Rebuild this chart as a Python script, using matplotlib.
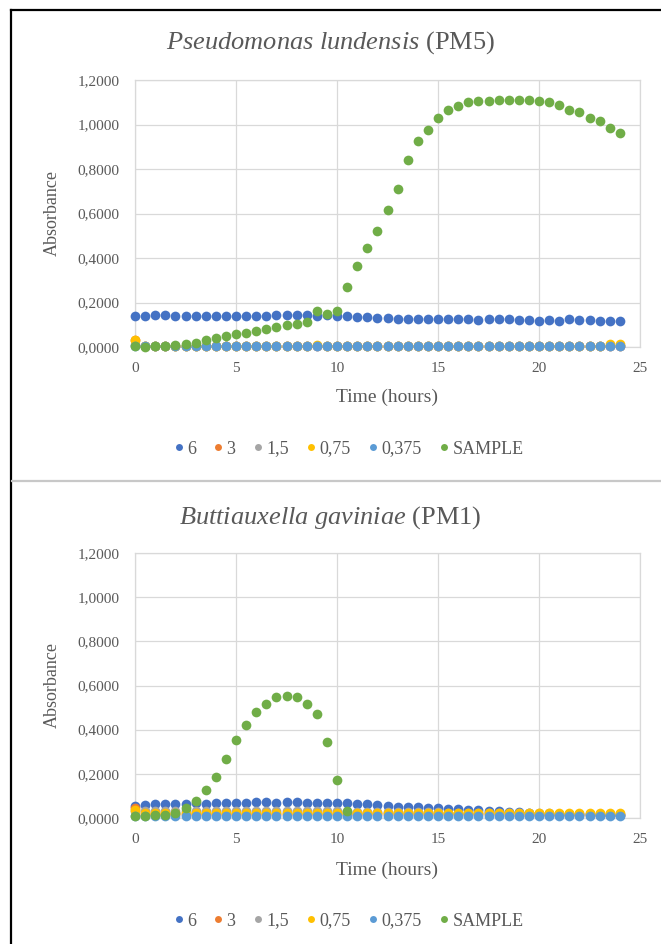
import matplotlib
matplotlib.use("Agg")
import matplotlib.pyplot as plt
from matplotlib.lines import Line2D
from matplotlib.ticker import FuncFormatter
import numpy as np

# ---------------- data ----------------
hours = [0, 0.5, 1, 1.5, 2, 2.5, 3, 3.5, 4, 4.5, 5, 5.5, 6, 6.5, 7, 7.5, 8, 8.5,
         9, 9.5, 10, 10.5, 11, 11.5, 12, 12.5, 13, 13.5, 14, 14.5, 15, 15.5, 16,
         16.5, 17, 17.5, 18, 18.5, 19, 19.5, 20, 20.5, 21, 21.5, 22, 22.5, 23,
         23.5, 24]

series_names = ["6", "3", "1,5", "0,75", "0,375", "SAMPLE"]
series_colors = ["#4472C4", "#ED7D31", "#A5A5A5", "#FFC000", "#5B9BD5", "#70AD47"]

# Pseudomonas lundensis (PM5)
top_6 = [0.138, 0.140, 0.142, 0.146, 0.140, 0.140, 0.139, 0.139, 0.139, 0.140,
         0.140, 0.139, 0.140, 0.141, 0.145, 0.146, 0.143, 0.146, 0.140, 0.142,
         0.141, 0.140, 0.137, 0.136, 0.132, 0.130, 0.128, 0.127, 0.128, 0.127,
         0.127, 0.126, 0.126, 0.125, 0.121, 0.125, 0.126, 0.124, 0.121, 0.122,
         0.118, 0.123, 0.119, 0.124, 0.121, 0.120, 0.119, 0.119, 0.119]
top_3 = [0.030, 0.005, 0.004, 0.004, 0.004, 0.004, 0.004, 0.004, 0.004, 0.004,
         0.004, 0.004, 0.004, 0.004, 0.004, 0.004, 0.004, 0.004, 0.004, 0.004,
         0.004, 0.004, 0.004, 0.004, 0.004, 0.004, 0.004, 0.004, 0.004, 0.004,
         0.004, 0.004, 0.004, 0.004, 0.004, 0.004, 0.004, 0.004, 0.004, 0.004,
         0.004, 0.004, 0.004, 0.004, 0.004, 0.004, 0.004, 0.004, 0.004]
top_15 = [0.008, 0.006, 0.006, 0.006, 0.006, 0.006, 0.006, 0.006, 0.006, 0.006,
          0.006, 0.006, 0.006, 0.006, 0.006, 0.006, 0.006, 0.006, 0.006, 0.006,
          0.006, 0.006, 0.006, 0.006, 0.006, 0.006, 0.006, 0.006, 0.006, 0.006,
          0.006, 0.006, 0.006, 0.006, 0.006, 0.006, 0.006, 0.006, 0.006, 0.006,
          0.006, 0.006, 0.006, 0.006, 0.006, 0.006, 0.006, 0.006, 0.006]
top_075 = [0.032, 0.006, 0.005, 0.005, 0.005, 0.005, 0.005, 0.005, 0.005, 0.005,
           0.005, 0.005, 0.005, 0.005, 0.005, 0.005, 0.005, 0.005, 0.011, 0.005,
           0.005, 0.005, 0.005, 0.005, 0.005, 0.005, 0.005, 0.005, 0.005, 0.005,
           0.005, 0.005, 0.005, 0.005, 0.005, 0.005, 0.005, 0.005, 0.005, 0.005,
           0.005, 0.005, 0.005, 0.005, 0.005, 0.005, 0.006, 0.012, 0.012]
top_0375 = [0.004, 0.004, 0.004, 0.004, 0.004, 0.004, 0.004, 0.004, 0.004, 0.004,
            0.004, 0.004, 0.004, 0.004, 0.004, 0.004, 0.004, 0.004, 0.004, 0.004,
            0.004, 0.004, 0.004, 0.004, 0.004, 0.004, 0.004, 0.004, 0.004, 0.004,
            0.004, 0.004, 0.004, 0.004, 0.004, 0.004, 0.004, 0.004, 0.004, 0.004,
            0.004, 0.004, 0.004, 0.004, 0.004, 0.004, 0.004, 0.004, 0.004]
top_sample = [0.003, 0.002, 0.004, 0.005, 0.008, 0.012, 0.020, 0.030, 0.040, 0.050,
              0.057, 0.065, 0.072, 0.080, 0.090, 0.098, 0.105, 0.113, 0.160, 0.148,
              0.162, 0.271, 0.365, 0.444, 0.523, 0.617, 0.711, 0.839, 0.926, 0.976,
              1.027, 1.063, 1.083, 1.099, 1.106, 1.106, 1.110, 1.111, 1.111, 1.111,
              1.106, 1.099, 1.086, 1.065, 1.057, 1.027, 1.015, 0.986, 0.962]

# Buttiauxella gaviniae (PM1)
bot_6 = [0.055, 0.060, 0.065, 0.065, 0.062, 0.065, 0.066, 0.065, 0.068, 0.070,
         0.068, 0.070, 0.072, 0.072, 0.070, 0.072, 0.072, 0.070, 0.070, 0.070,
         0.068, 0.066, 0.065, 0.062, 0.058, 0.055, 0.052, 0.050, 0.048, 0.046,
         0.044, 0.042, 0.040, 0.037, 0.035, 0.032, 0.030, 0.028, 0.025, 0.022,
         0.020, 0.019, 0.018, 0.017, 0.016, 0.016, 0.015, 0.015, 0.015]
bot_3 = [0.045, 0.020, 0.020, 0.020, 0.020, 0.020, 0.020, 0.020, 0.020, 0.020,
         0.020, 0.020, 0.020, 0.020, 0.020, 0.020, 0.020, 0.020, 0.020, 0.020,
         0.020, 0.020, 0.019, 0.019, 0.019, 0.018, 0.018, 0.018, 0.018, 0.017,
         0.017, 0.017, 0.017, 0.016, 0.016, 0.016, 0.016, 0.015, 0.015, 0.015,
         0.015, 0.015, 0.015, 0.015, 0.015, 0.015, 0.015, 0.015, 0.015]
bot_15 = [0.032, 0.030, 0.030, 0.030, 0.030, 0.030, 0.030, 0.030, 0.030, 0.030,
          0.030, 0.030, 0.030, 0.030, 0.030, 0.030, 0.030, 0.030, 0.030, 0.030,
          0.030, 0.029, 0.028, 0.028, 0.027, 0.027, 0.026, 0.026, 0.025, 0.025,
          0.025, 0.024, 0.024, 0.024, 0.023, 0.023, 0.022, 0.022, 0.022, 0.021,
          0.021, 0.021, 0.020, 0.020, 0.020, 0.020, 0.020, 0.020, 0.020]
bot_075 = [0.035, 0.024, 0.024, 0.024, 0.024, 0.024, 0.024, 0.024, 0.024, 0.024,
           0.024, 0.024, 0.024, 0.024, 0.024, 0.024, 0.024, 0.024, 0.024, 0.024,
           0.024, 0.024, 0.024, 0.024, 0.024, 0.024, 0.024, 0.024, 0.024, 0.024,
           0.024, 0.024, 0.024, 0.024, 0.024, 0.024, 0.024, 0.024, 0.024, 0.024,
           0.024, 0.024, 0.024, 0.024, 0.024, 0.024, 0.024, 0.024, 0.024]
bot_0375 = [0.008, 0.008, 0.008, 0.008, 0.008, 0.008, 0.008, 0.008, 0.008, 0.008,
            0.008, 0.008, 0.008, 0.008, 0.008, 0.008, 0.008, 0.008, 0.008, 0.008,
            0.008, 0.008, 0.008, 0.008, 0.008, 0.008, 0.008, 0.008, 0.008, 0.008,
            0.008, 0.008, 0.008, 0.008, 0.008, 0.008, 0.008, 0.008, 0.008, 0.008,
            0.008, 0.008, 0.008, 0.008, 0.008, 0.008, 0.008, 0.008, 0.008]
bot_sample = [0.009, 0.009, 0.014, 0.012, 0.024, 0.044, 0.077, 0.129, 0.185, 0.265,
              0.352, 0.423, 0.480, 0.516, 0.546, 0.553, 0.546, 0.516, 0.472, 0.344,
              0.170, 0.032, None, None, None, None, None, None, None, None,
              None, None, None, None, None, None, None, None, None, None,
              None, None, None, None, None, None, None, None, None]

x_ticks = [0, 5, 10, 15, 20, 25]
y_ticks = [0.0, 0.2, 0.4, 0.6, 0.8, 1.0, 1.2]

panels = [
    ("Pseudomonas\\ lundensis", "(PM5)",
     [top_6, top_3, top_15, top_075, top_0375, top_sample]),
    ("Buttiauxella\\ gaviniae", "(PM1)",
     [bot_6, bot_3, bot_15, bot_075, bot_0375, bot_sample]),
]

# ---------------- style ----------------
plt.rcParams['font.family'] = ['Liberation Serif', 'DejaVu Serif']
plt.rcParams['mathtext.fontset'] = 'custom'
plt.rcParams['mathtext.it'] = 'Liberation Serif:italic'
plt.rcParams['mathtext.rm'] = 'Liberation Serif'

W, H = 661, 944
fig = plt.figure(figsize=(W / 100, H / 100), dpi=100)
fig.patch.set_facecolor("white")

text_col = "#595959"
grid_col = "#D9D9D9"


def fx(px):
    return px / W


def fy(py):
    return 1 - py / H


geom = [
    dict(top=80, bottom=347, title=42, xlabel=397, legend=449),
    dict(top=553, bottom=818, title=517, xlabel=870, legend=921),
]
left_px, right_px = 135, 640

fmt = FuncFormatter(lambda v, p: f"{v:.4f}".replace(".", ","))

for (species, code, data), g in zip(panels, geom):
    ax = fig.add_axes([fx(left_px), fy(g["bottom"]), fx(right_px) - fx(left_px),
                       (g["bottom"] - g["top"]) / H])
    ax.set_xlim(0, 25)
    ax.set_ylim(0, 1.2)
    ax.set_xticks(x_ticks)
    ax.set_yticks(y_ticks)
    ax.yaxis.set_major_formatter(fmt)
    ax.grid(True, color=grid_col, linewidth=0.9)
    ax.set_axisbelow(True)
    for s in ax.spines.values():
        s.set_color(grid_col)
        s.set_linewidth(0.9)
    ax.tick_params(length=0, labelsize=11, colors=text_col)
    ax.tick_params(axis="y", pad=11)
    ax.tick_params(axis="x", pad=11)
    for i, (vals, col) in enumerate(zip(data, series_colors)):
        y = np.array([np.nan if v is None else v for v in vals], dtype=float)
        ax.plot(hours, y, linestyle="none", marker="o", markersize=7.0,
                markerfacecolor=col, markeredgewidth=0, zorder=3 + i,
                clip_on=False)
    ax.text((52 - left_px) / (right_px - left_px), 0.5, "Absorbance",
            rotation=90, ha="center", va="center", fontsize=13,
            color=text_col, transform=ax.transAxes)
    fig.text(fx(387), fy(g["xlabel"]), "Time (hours)", ha="center",
             va="center", fontsize=14, color=text_col)
    fig.text(fx(330), fy(g["title"] + 1),
             r"$\mathit{" + species + r"}$ " + code,
             ha="center", va="center", fontsize=19, color=text_col)
    handles = [Line2D([], [], linestyle="none", marker="o", markersize=5,
                      markerfacecolor=c, markeredgewidth=0)
               for c in series_colors]
    fig.legend(handles, series_names, loc="center",
               bbox_to_anchor=(fx(347), fy(g["legend"])), ncol=6,
               frameon=False, fontsize=13, handletextpad=0.0,
               columnspacing=0.8, handlelength=0.9, labelcolor=text_col,
               borderaxespad=0)

# outer frame and separator
fig.add_artist(Line2D([fx(11), fx(11)], [fy(10), 0], transform=fig.transFigure,
                      color="black", linewidth=1.6))
fig.add_artist(Line2D([fx(11), 1], [fy(10), fy(10)], transform=fig.transFigure,
                      color="black", linewidth=1.6))
fig.add_artist(Line2D([fx(12), 1], [fy(481), fy(481)], transform=fig.transFigure,
                      color="#C8C8C8", linewidth=1.6))

fig.savefig("out.png", dpi=100)
